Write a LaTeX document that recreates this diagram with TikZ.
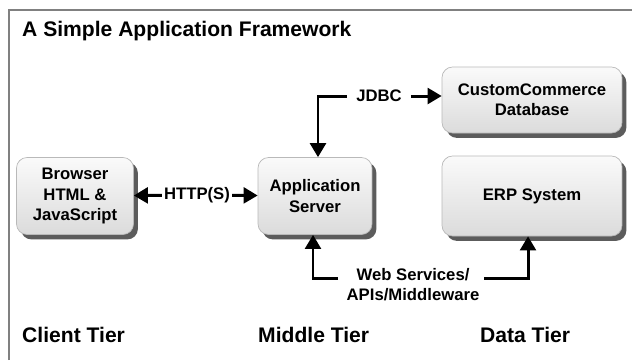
\documentclass[tikz,border=0pt]{standalone}
\usepackage{fontspec}
\setmainfont{Liberation Sans}
\usetikzlibrary{shadows,arrows.meta}

\begin{document}
\begin{tikzpicture}[x=0.02cm,y=-0.02cm,
  box/.style={rounded corners=6pt,draw=gray!55,top color=gray!4,bottom color=gray!28,
    drop shadow={shadow xshift=2.5pt,shadow yshift=-2.8pt,opacity=.8,fill=black!80},
    align=center,inner sep=0pt,font=\fontsize{9.5}{11.5}\selectfont\bfseries},
  lbl/.style={align=center,inner sep=1pt,font=\fontsize{9.5}{11.5}\selectfont\bfseries},
  tier/.style={anchor=west,font=\fontsize{12}{14}\selectfont\bfseries},
  pipe/.style={line width=1.7pt,-{Triangle[length=8pt,width=9pt]}}]
\useasboundingbox (0,0) rectangle (632,360);
\draw[gray,line width=1pt] (9,360) -- (9,10) -- (632,10);
\node[anchor=west,font=\fontsize{12}{14}\selectfont\bfseries] (title) at (16,31) {A Simple Application Framework};
% the four boxes
\node[box,minimum width=2.34cm,minimum height=1.54cm] (browser) at (75,196) {Browser\\HTML \&\\JavaScript};
\node[box,minimum width=2.28cm,minimum height=1.54cm] (app) at (315,196) {Application\\Server};
\node[box,minimum width=3.6cm,minimum height=1.32cm] (db) at (532,100) {CustomCommerce\\Database};
\node[box,minimum width=3.6cm,minimum height=1.6cm] (erp) at (532,196) {ERP System};
% links
\node[lbl] (http) at (197,195) {HTTP(S)};
\draw[pipe] (http) -- (browser);
\draw[pipe] (http) -- (app);
\node[lbl,inner xsep=5pt] (jdbc) at (379,96) {JDBC};
\coordinate (jbend) at (318,96);
\draw[pipe] (jdbc.west) -- (jbend) -- (jbend |- app.north);
\draw[pipe] (jdbc.east) -- (jdbc.east -| db.west);
\node[lbl] (ws) at (413,285) {Web Services/\\APIs/Middleware};
\coordinate (wsl) at (338,278); \coordinate (wsr) at (484,278);
\draw[pipe] (wsl) -- (313,278) -- (313,278 |- app.south);
\draw[pipe] (wsr) -- (528,278) -- (528,278 |- erp.south);
% tiers
\node[tier] (client) at (16,335) {Client Tier};
\node[tier] (middle) at (252,335) {Middle Tier};
\node[tier] (data) at (474,335) {Data Tier};
\end{tikzpicture}
\end{document}
